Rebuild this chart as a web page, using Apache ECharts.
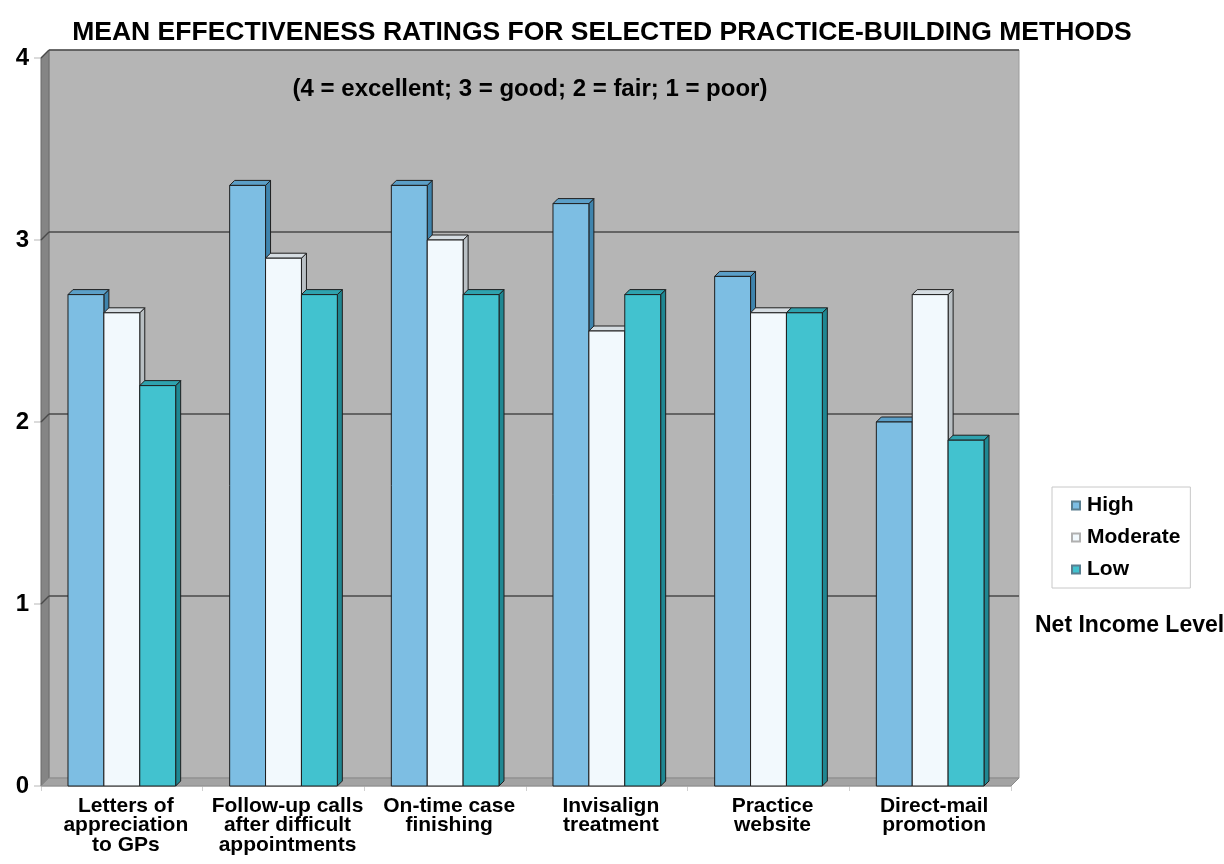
<!DOCTYPE html>
<html>
<head>
<meta charset="utf-8">
<script src="https://cdn.jsdelivr.net/npm/echarts@6/dist/echarts.min.js"></script>
<style>html,body{margin:0;padding:0;background:#fff;}#c{width:1224px;height:864px;}</style>
</head>
<body>
<div id="c"></div>
<script>
const categories = ['Letters of\nappreciation\nto GPs', 'Follow-up calls\nafter difficult\nappointments', 'On-time case\nfinishing', 'Invisalign\ntreatment', 'Practice\nwebsite', 'Direct-mail\npromotion'];
const seriesNames = ['High', 'Moderate', 'Low'];
const highValues = [2.7, 3.3, 3.3, 3.2, 2.8, 2.0];
const moderateValues = [2.6, 2.9, 3.0, 2.5, 2.6, 2.7];
const lowValues = [2.2, 2.7, 2.7, 2.7, 2.6, 1.9];
const yTicks = [0, 1, 2, 3, 4];

const FONT = '"Liberation Sans", Arial, Helvetica, sans-serif';
const faceColors = [
  {front: '#7dbee3', top: '#5b9fc8', side: '#3f84ad'},
  {front: '#f2f9fd', top: '#d6dde2', side: '#b9c0c4'},
  {front: '#42c2cf', top: '#2ea2ae', side: '#1f8792'}
];
const WALL_D = 8, BAR_D = 5;

function wallRender(params, api) {
  const cs = params.coordSys;
  const x0 = cs.x, y0 = cs.y, x1 = cs.x + cs.width, y1 = cs.y + cs.height;
  const d = WALL_D;
  const children = [];
  children.push({type: 'polygon', shape: {points: [[x0 + d, y0 - d], [x1 + d, y0 - d], [x1 + d, y1 - d], [x0 + d, y1 - d]]},
    style: {fill: '#b5b5b5', stroke: '#9a9a9a', lineWidth: 1}});
  children.push({type: 'polygon', shape: {points: [[x0, y0], [x0 + d, y0 - d], [x0 + d, y1 - d], [x0, y1]]},
    style: {fill: '#858585', stroke: '#6a6a6a', lineWidth: 1}});
  children.push({type: 'polygon', shape: {points: [[x0, y1], [x0 + d, y1 - d], [x1 + d, y1 - d], [x1, y1]]},
    style: {fill: '#a3a3a3', stroke: '#8a8a8a', lineWidth: 1}});
  yTicks.forEach(function (v) {
    if (v === 0) return;
    const y = api.coord([0, v])[1];
    children.push({type: 'line', shape: {x1: x0 + d, y1: y - d, x2: x1 + d, y2: y - d}, style: {stroke: '#4a4a4a', lineWidth: 1.5}});
    children.push({type: 'line', shape: {x1: x0, y1: y, x2: x0 + d, y2: y - d}, style: {stroke: '#4a4a4a', lineWidth: 1.5}});
  });
  return {type: 'group', children: children};
}

function makeBarRender(s) {
  return function (params, api) {
    const i = api.value(0), v = api.value(1);
    const c = api.coord([i, v]);
    const base = api.coord([i, 0]);
    const band = api.size([1, 0])[0];
    const bw = band * 0.222;
    const x = c[0] - 1.5 * bw + s * bw;
    const yT = c[1], yB = base[1];
    const d = BAR_D;
    const col = faceColors[s];
    const stroke = '#1e1e1e';
    return {type: 'group', children: [
      {type: 'polygon', shape: {points: [[x + bw, yT], [x + bw + d, yT - d], [x + bw + d, yB - d], [x + bw, yB]]},
        style: {fill: col.side, stroke: stroke, lineWidth: 1}},
      {type: 'polygon', shape: {points: [[x, yT], [x + d, yT - d], [x + bw + d, yT - d], [x + bw, yT]]},
        style: {fill: col.top, stroke: stroke, lineWidth: 1}},
      {type: 'rect', shape: {x: x, y: yT, width: bw, height: yB - yT},
        style: {fill: col.front, stroke: stroke, lineWidth: 1}}
    ]};
  };
}

const valueSets = [highValues, moderateValues, lowValues];
const barSeries = seriesNames.map(function (name, s) {
  return {
    name: name, type: 'custom', renderItem: makeBarRender(s), clip: false,
    itemStyle: {color: faceColors[s].front, borderColor: s === 1 ? '#b0b0b0' : '#5a7f90', borderWidth: 1},
    encode: {x: 0, y: 1},
    data: valueSets[s].map(function (v, i) { return [i, v]; }),
    z: 5 + s
  };
});

const chart = echarts.init(document.getElementById('c'), null, {renderer: 'canvas'});
chart.setOption({
  animation: false,
  backgroundColor: '#ffffff',
  title: [
    {text: 'MEAN EFFECTIVENESS RATINGS FOR SELECTED PRACTICE-BUILDING METHODS', left: 597, top: 14, textAlign: 'center',
      textStyle: {fontFamily: FONT, fontWeight: 'bold', fontSize: 26.5, color: '#000'}},
    {text: '(4 = excellent; 3 = good; 2 = fair; 1 = poor)', left: 525, top: 72, textAlign: 'center',
      textStyle: {fontFamily: FONT, fontWeight: 'bold', fontSize: 24, color: '#000'}},
    {text: 'Net Income Level', left: 1030, top: 609,
      textStyle: {fontFamily: FONT, fontWeight: 'bold', fontSize: 23, color: '#000'}}
  ],
  legend: {
    data: seriesNames, orient: 'vertical', left: 1052, top: 487,
    padding: [8, 10, 8, 19],
    borderColor: '#c8c8c8', borderWidth: 1, backgroundColor: '#fff',
    itemWidth: 8, itemHeight: 8, itemGap: 11, icon: 'rect',
    textStyle: {fontFamily: FONT, fontWeight: 'bold', fontSize: 21, color: '#000', width: 100, padding: [0, 0, 0, 2]}
  },
  grid: {left: 41, right: 213, top: 58, bottom: 78, containLabel: false},
  xAxis: {
    type: 'category', data: categories,
    axisLine: {show: true, lineStyle: {color: '#d0d0d0', width: 1.5}},
    axisTick: {show: true, alignWithLabel: false, length: 5, lineStyle: {color: '#d0d0d0'}},
    axisLabel: {interval: 0, margin: 10, fontFamily: FONT, fontWeight: 'bold', fontSize: 21, color: '#000', lineHeight: 19.5, padding: [0, 0, 0, 8]}
  },
  yAxis: {
    type: 'value', min: 0, max: 4, interval: 1,
    axisLine: {show: false},
    axisTick: {show: true, length: 7, lineStyle: {color: '#cfcfcf', width: 1.5}},
    splitLine: {show: false},
    axisLabel: {margin: 12, fontFamily: FONT, fontWeight: 'bold', fontSize: 24, color: '#000'}
  },
  series: [{
    type: 'custom', name: 'wall', renderItem: wallRender, clip: false, silent: true, z: 1,
    encode: {x: 0, y: 1}, data: [[0, 0]]
  }].concat(barSeries)
});
</script>
</body>
</html>
